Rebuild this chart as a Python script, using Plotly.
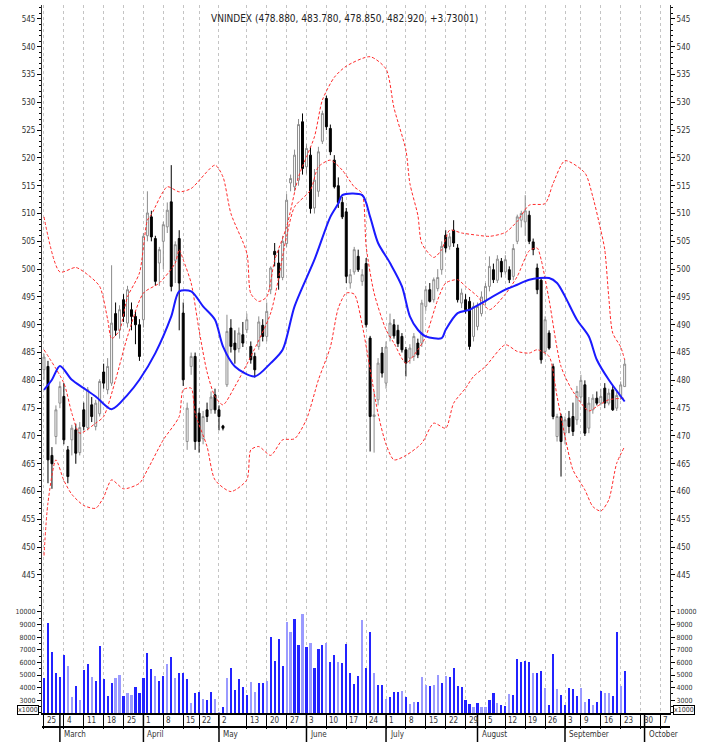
import plotly.graph_objects as go

# ---------------- data (trading-day index 0 = 25 Feb 2013) ----------------
opens = [481.9, 482.5, 466.5, 469.9, 475.9, 477.1, 467.5, 469.3, 471.1, 467.0,
         474.7, 471.5, 475.6, 471.7, 474.0, 481.5, 478.3, 479.5, 492.0, 489.0,
         494.5, 490.3, 492.7, 491.5, 490.0, 490.9, 506.0, 509.4, 505.5, 501.1,
         505.0, 507.6, 512.1, 501.6, 505.5, 492.1, 469.0, 482.5, 484.3, 474.1,
         469.5, 474.7, 474.7, 477.4, 474.7, 471.8, 479.2, 489.4, 486.7, 485.7,
         488.2, 489.1, 486.1, 484.3, 486.1, 489.9, 487.9, 496.3, 503.2, 501.1,
         498.5, 504.6, 515.5, 514.8, 516.0, 526.5, 518.4, 520.5, 511.0, 514.0,
         523.0, 530.7, 525.3, 519.6, 515.0, 512.0, 510.3, 497.5, 499.5, 502.3,
         497.8, 501.0, 487.6, 473.5, 476.5, 484.9, 479.5, 487.9, 490.0, 489.0,
         487.9, 485.5, 484.0, 484.3, 486.7, 486.7, 493.3, 496.3, 494.5, 496.5,
         499.9, 506.1, 504.1, 507.0, 503.8, 493.9, 494.5, 494.2, 487.9, 489.7,
         492.0, 494.2, 496.9, 499.9, 498.0, 501.4, 499.5, 499.9, 498.7, 505.0,
         508.8, 508.5, 509.7, 504.9, 500.2, 498.0, 485.2, 488.5, 482.5, 469.9,
         473.5, 470.5, 473.2, 473.5, 472.9, 477.0, 479.2, 471.4, 474.7, 476.8,
         475.9, 478.6, 475.9, 478.3, 475.0, 477.1, 478.88]
highs = [484.8, 483.5, 468.0, 475.5, 479.8, 479.5, 468.2, 472.0, 472.2, 472.5,
         476.0, 478.8, 477.0, 476.5, 480.2, 483.0, 484.0, 500.7, 494.0, 493.5,
         495.5, 497.0, 494.0, 492.5, 491.0, 506.5, 514.0, 510.5, 506.0, 504.0,
         508.5, 512.0, 518.7, 505.0, 507.0, 494.0, 476.0, 485.0, 485.0, 475.0,
         474.5, 476.0, 478.0, 478.5, 475.5, 472.0, 491.8, 491.0, 489.0, 489.5,
         490.5, 492.0, 487.0, 485.0, 491.5, 491.0, 494.0, 500.5, 504.7, 503.5,
         506.0, 513.5, 517.0, 521.5, 527.0, 528.0, 522.5, 522.0, 518.0, 522.0,
         528.5, 531.2, 526.0, 520.5, 516.5, 513.0, 511.0, 500.0, 504.0, 503.5,
         500.0, 502.0, 488.0, 478.0, 484.0, 486.0, 487.0, 492.0, 491.0, 490.0,
         488.5, 486.0, 486.5, 488.5, 487.5, 494.5, 497.0, 497.5, 498.5, 500.0,
         505.0, 507.0, 506.5, 508.8, 504.5, 496.5, 495.5, 495.0, 494.0, 494.0,
         496.0, 497.5, 502.3, 501.0, 502.5, 502.0, 502.5, 500.5, 504.5, 509.8,
         510.5, 513.3, 510.5, 505.5, 501.0, 498.5, 491.5, 489.0, 483.0, 474.0,
         474.0, 473.5, 474.5, 476.0, 479.0, 481.0, 480.0, 477.0, 477.5, 478.0,
         478.5, 479.5, 478.5, 479.0, 478.0, 479.8, 483.78]
lows = [480.1, 461.5, 460.5, 468.5, 475.0, 468.5, 461.5, 466.5, 465.0, 466.5,
        471.0, 471.0, 472.5, 471.0, 473.5, 478.5, 477.5, 479.0, 488.0, 487.5,
        490.5, 489.5, 489.0, 486.5, 483.5, 489.5, 505.0, 505.0, 497.0, 497.0,
        500.0, 506.5, 496.0, 497.5, 489.0, 479.0, 467.5, 481.0, 467.5, 467.0,
        468.5, 472.5, 474.0, 474.0, 471.0, 471.0, 478.8, 485.0, 483.0, 485.0,
        486.0, 488.5, 483.0, 480.5, 485.5, 487.0, 487.0, 495.5, 500.5, 496.3,
        498.0, 504.0, 514.0, 514.0, 515.0, 517.0, 517.0, 510.0, 510.0, 513.0,
        522.5, 525.0, 520.5, 514.5, 511.0, 509.0, 497.5, 496.5, 499.0, 499.5,
        497.0, 489.5, 467.2, 467.0, 475.5, 480.5, 478.5, 487.0, 487.5, 486.0,
        485.0, 480.7, 483.0, 483.5, 484.0, 486.0, 492.5, 494.0, 494.0, 496.0,
        499.0, 503.0, 503.5, 504.0, 494.0, 493.0, 492.0, 485.5, 487.0, 489.0,
        491.5, 493.5, 496.0, 497.5, 497.5, 498.5, 499.0, 497.5, 498.0, 504.5,
        507.5, 506.0, 504.5, 502.5, 495.5, 483.0, 484.5, 485.5, 473.0, 469.0,
        462.7, 468.5, 470.5, 470.0, 472.0, 476.0, 470.0, 470.5, 474.0, 475.5,
        475.5, 475.0, 475.5, 474.5, 474.5, 476.5, 478.85]
closes = [484.2, 465.7, 465.0, 474.7, 478.9, 469.3, 462.7, 471.4, 466.9, 471.5,
          471.7, 478.3, 473.5, 475.9, 479.8, 479.5, 482.5, 490.3, 489.0, 492.7,
          491.5, 496.3, 491.5, 490.0, 484.3, 505.9, 510.1, 505.8, 497.8, 503.5,
          508.0, 510.6, 496.9, 504.4, 497.5, 480.1, 475.0, 484.3, 469.0, 469.0,
          473.5, 473.5, 477.0, 474.7, 473.5, 471.4, 488.8, 486.1, 485.5, 488.5,
          486.7, 490.9, 483.7, 481.9, 490.5, 487.9, 492.4, 500.2, 502.6, 498.4,
          505.0, 512.4, 516.3, 520.5, 526.0, 518.1, 521.7, 510.9, 516.0, 521.1,
          528.0, 525.6, 521.1, 514.8, 512.0, 509.4, 498.7, 499.0, 503.5, 499.9,
          499.0, 490.0, 473.5, 473.8, 483.1, 481.3, 486.0, 490.3, 488.0, 486.6,
          485.5, 483.1, 485.8, 487.9, 484.6, 493.9, 496.3, 494.2, 498.1, 498.5,
          504.1, 503.8, 505.8, 504.7, 494.5, 495.7, 492.7, 486.1, 493.3, 493.3,
          495.0, 496.9, 500.5, 498.1, 501.8, 499.5, 501.7, 498.1, 503.7, 509.4,
          510.0, 510.5, 505.0, 503.5, 496.3, 483.7, 490.9, 485.8, 473.5, 473.5,
          469.0, 472.9, 471.7, 470.8, 478.0, 480.0, 470.5, 475.9, 476.8, 475.9,
          477.1, 475.9, 477.7, 474.7, 477.3, 479.19, 482.92]

volumes = [4734, 9153, 6851, 5131, 4866, 6586, 5750, 3278, 4125, 3014,
           5395, 5871, 4813, 4548, 7300, 4707, 3358, 4337, 4734, 4999,
           3358, 3596, 3411, 4019, 3543, 4734, 6718, 5448, 4919, 4522,
           4946, 5871, 6454, 4734, 5131, 5131, 4681, 2802, 3596, 3675,
           3067, 3014, 3622, 3093, 2088, 2485, 4734, 5554, 3808, 4681,
           4019, 3411, 4469, 3622, 4337, 4337, 4522, 8041, 6110, 7830,
           5739, 9232, 8385, 9417, 7380, 9814, 7248, 7565, 5528, 7062,
           7380, 7512, 6057, 6586, 6057, 5978, 7433, 5184, 4258, 4946,
           9364, 5528, 8438, 5184, 4205, 4205, 3093, 3278, 3622, 3622,
           3728, 3278, 2670, 2882, 2882, 4866, 4205, 4152, 4205, 4999,
           4337, 4919, 4813, 5581, 4125, 4073, 3014, 2670, 2485, 2802,
           2485, 2432, 3014, 3596, 2802, 2617, 2538, 3464, 3411, 6242,
           6057, 6110, 6057, 5184, 5184, 5342, 3940, 2617, 6665, 3861,
           3411, 2617, 3940, 3861, 3358, 3940, 2829, 3093, 2617, 2829,
           3728, 3543, 3543, 3332, 8438, 4125, 5316]
vol_light = [0, 0, 0, 0, 0, 0, 1, 1, 0, 1, 0, 0, 1, 0, 0, 0, 0, 0, 1, 1,
             0, 1, 1, 0, 0, 0, 0, 0, 1, 0, 0, 1, 0, 1, 0, 0, 0, 1, 0, 0,
             1, 0, 0, 1, 1, 0, 1, 0, 0, 0, 0, 0, 1, 1, 0, 0, 1, 0, 0, 0,
             0, 1, 1, 0, 0, 1, 0, 1, 0, 0, 0, 1, 0, 0, 1, 0, 0, 0, 0, 0,
             1, 0, 0, 1, 0, 0, 1, 0, 0, 0, 1, 0, 1, 1, 0, 1, 1, 0, 1, 1,
             0, 1, 0, 0, 0, 0, 0, 0, 1, 0, 1, 1, 0, 0, 1, 0, 0, 1, 0, 0,
             0, 0, 0, 1, 0, 0, 1, 0, 0, 1, 0, 0, 0, 0, 0, 1, 1, 0, 1, 0,
             0, 1, 1, 0, 0, 1, 0]

# moving average (blue) and band lines (red)
ma_day = [0, 2, 4, 7, 10, 13, 17, 21, 24, 28, 32, 34, 37, 40, 43, 45, 48, 53, 57,
          60, 63, 68, 72, 74, 75, 80, 82, 84, 87, 90, 92, 94, 96, 100, 101, 104,
          107, 110, 116, 119, 122, 127, 129, 131, 134, 137, 139, 142, 146]
ma_val = [478.3, 480.1, 482.6, 480.1, 478.6, 477.1, 474.8, 477.4, 480.1, 484.9,
          491.5, 496.0, 496.0, 493.3, 490.9, 486.1, 482.5, 480.7, 483.1, 485.5,
          493.3, 501.7, 509.4, 511.8, 513.3, 513.3, 509.4, 504.7, 501.1, 496.9,
          491.5, 489.1, 487.9, 487.6, 489.1, 492.1, 492.7, 493.9, 496.3, 497.2,
          498.1, 498.4, 497.5, 495.1, 490.9, 487.9, 483.7, 480.1, 476.2]

upper_day = [0, 4, 8, 11, 14, 16, 17, 19, 21, 24, 26, 27, 31, 34, 37, 43, 45, 47,
             51, 52, 54, 56, 58, 61, 64, 68, 70, 73, 76, 82, 86, 88, 91, 92, 94,
             95, 98, 100, 102, 105, 109, 112, 116, 119, 122, 126, 128, 131, 136,
             138, 140, 141, 142, 143, 145, 146]
upper_val = [509.4, 499.5, 500.3, 499.0, 496.9, 491.0, 487.5, 489.0, 495.0, 499.3,
             508.8, 509.8, 514.8, 513.9, 514.5, 518.7, 516.6, 510.0, 502.9, 495.6,
             494.2, 495.0, 501.6, 507.6, 516.6, 523.8, 530.4, 534.5, 536.5, 538.2,
             536.0, 529.0, 521.4, 515.4, 509.7, 504.6, 502.1, 503.5, 507.0, 506.5,
             506.1, 505.9, 506.6, 508.6, 511.5, 511.8, 515.4, 519.5, 517.3, 513.0,
             507.0, 503.5, 495.0, 488.5, 486.0, 483.7]

mid_day = [0, 5, 7, 9, 13, 15, 18, 21, 25, 29, 33, 34, 35, 37, 39, 41, 43, 45, 48,
           52, 57, 61, 63, 67, 69, 72, 75, 78, 80, 81, 83, 86, 88, 91, 94, 96, 99,
           101, 104, 106, 109, 112, 116, 119, 122, 124, 125, 127, 130, 133, 137,
           139, 142, 146]
mid_val = [485.5, 479.5, 474.1, 470.5, 472.3, 473.5, 480.1, 487.9, 495.7, 497.5,
           501.1, 503.5, 501.7, 497.5, 489.0, 481.5, 477.1, 475.6, 478.9, 484.3,
           492.1, 505.9, 511.2, 514.2, 518.4, 519.6, 517.8, 514.8, 513.6, 504.1,
           495.7, 489.1, 486.7, 483.1, 485.5, 487.9, 494.5, 497.5, 498.1, 496.9,
           495.1, 492.7, 495.5, 498.7, 503.3, 503.8, 501.7, 494.5, 482.5, 478.0,
           474.5, 475.3, 476.5, 476.8]

lower_day = [0, 1, 3, 5, 7, 10, 13, 15, 17, 20, 24, 26, 30, 34, 35, 37, 38, 41, 43,
             47, 51, 52, 54, 57, 60, 63, 66, 69, 72, 74, 76, 78, 80, 82, 84, 86,
             88, 91, 95, 98, 101, 103, 106, 108, 111, 116, 119, 122, 124, 127,
             129, 131, 133, 136, 138, 140, 142, 144, 146]
lower_val = [448.5, 458.0, 465.7, 462.0, 459.5, 457.5, 457.0, 459.0, 462.1, 460.5,
             461.5, 463.9, 469.3, 473.5, 478.3, 478.6, 474.1, 468.1, 462.1, 460.0,
             462.1, 467.5, 468.1, 466.5, 469.3, 469.5, 473.0, 480.1, 486.0, 493.0,
             495.7, 495.5, 490.0, 482.0, 474.0, 468.5, 465.7, 466.5, 468.7, 472.3,
             471.4, 475.9, 478.6, 480.7, 482.5, 486.4, 485.2, 484.9, 485.5, 484.3,
             477.1, 469.9, 463.9, 460.3, 457.3, 456.5, 458.5, 465.1, 468.1]

# axis labels
week_idx = [0, 5, 10, 15, 20, 25, 30, 35, 39, 44, 51, 56, 61, 66, 71, 76, 81, 86,
            91, 96, 101, 106, 111, 116, 121, 126, 131, 135, 140, 145, 150, 155]
week_lbl = ["25", "4", "11", "18", "25", "1", "8", "15", "22", "2", "13", "20", "27",
            "3", "10", "17", "24", "1", "8", "15", "22", "29", "5", "12", "19", "26",
            "3", "9", "16", "23", "30", "7"]
month_idx = [4, 25, 44, 66, 86, 109, 131, 151]
month_lbl = ["March", "April", "May", "June", "July", "August", "September", "October"]
price_ticks = [445, 450, 455, 460, 465, 470, 475, 480, 485, 490, 495, 500, 505,
               510, 515, 520, 525, 530, 535, 540, 545]
vol_ticks = [3000, 4000, 5000, 6000, 7000, 8000, 9000, 10000]
title_text = "VNINDEX (478.880, 483.780, 478.850, 482.920, +3.73001)"

# ---------------- figure ----------------
FONT = "Liberation Sans Narrow, Arial Narrow, DejaVu Sans Condensed, Liberation Sans, sans-serif"
days = list(range(len(closes)))
PRICE_RANGE = [440.5, 547.5]
VOL_RANGE = [1990, 10950]
SPLIT = 0.1596

fig = go.Figure()
fig.add_trace(go.Candlestick(
    x=days, open=opens, high=highs, low=lows, close=closes,
    increasing=dict(line=dict(color="#8c8c8c", width=1), fillcolor="#ffffff"),
    decreasing=dict(line=dict(color="#000000", width=1), fillcolor="#000000"),
    whiskerwidth=0, xaxis="x", yaxis="y", showlegend=False, hoverinfo="skip"))

for dx, dy in [(upper_day, upper_val), (mid_day, mid_val), (lower_day, lower_val)]:
    fig.add_trace(go.Scatter(x=dx, y=dy, mode="lines", xaxis="x", yaxis="y",
                             line=dict(color="#ff2a2a", width=1, dash="3px,2px",
                                       shape="spline", smoothing=0.7),
                             showlegend=False, hoverinfo="skip"))
fig.add_trace(go.Scatter(x=ma_day, y=ma_val, mode="lines", xaxis="x", yaxis="y",
                         line=dict(color="#1a1aff", width=2, shape="spline",
                                   smoothing=0.8),
                         showlegend=False, hoverinfo="skip"))

fig.add_trace(go.Bar(x=days, y=volumes, xaxis="x", yaxis="y2", width=0.55,
                     marker=dict(color=["#9a9aff" if f else "#2323ff" for f in vol_light],
                                 line=dict(width=0)),
                     showlegend=False, hoverinfo="skip"))
# carriers for the right-hand axes
fig.add_trace(go.Scatter(x=[days[-1]], y=[closes[-1]], xaxis="x", yaxis="y3",
                         mode="markers", marker=dict(opacity=0), showlegend=False,
                         hoverinfo="skip"))
fig.add_trace(go.Scatter(x=[days[-1]], y=[volumes[-1]], xaxis="x", yaxis="y4",
                         mode="markers", marker=dict(opacity=0), showlegend=False,
                         hoverinfo="skip"))

price_axis = dict(range=PRICE_RANGE, tickmode="array", tickvals=price_ticks,
                  ticktext=[str(t) for t in price_ticks], ticks="outside", ticklen=4,
                  tickcolor="#000", showline=True, linecolor="#333", linewidth=1,
                  showgrid=False, zeroline=False,
                  minor=dict(tickmode="linear", tick0=440, dtick=1, ticks="outside",
                             ticklen=2, tickcolor="#000", showgrid=False),
                  tickfont=dict(size=8, color="#333"))
vol_axis = dict(range=VOL_RANGE, tickmode="array", tickvals=vol_ticks,
                ticktext=[str(t) for t in vol_ticks], ticks="outside", ticklen=4,
                tickcolor="#000", showline=True, linecolor="#333", linewidth=1,
                showgrid=False, zeroline=False,
                minor=dict(tickmode="linear", tick0=0, dtick=500, ticks="outside",
                           ticklen=2, tickcolor="#000", showgrid=False),
                tickfont=dict(size=7, color="#333"))

fig.update_layout(
    width=703, height=742, margin=dict(l=42, r=33, t=5, b=29),
    paper_bgcolor="white", plot_bgcolor="white", showlegend=False,
    font=dict(family=FONT, size=8, color="#333"), bargap=0,
    xaxis=dict(domain=[0, 1], anchor="y2", range=[-0.5, 157.4], tickmode="array",
               tickvals=week_idx, ticktext=week_lbl, showticklabels=False,
               showgrid=True, gridcolor="#c4c4c4", griddash="dot", gridwidth=1,
               ticks="outside", ticklen=14, tickcolor="#000", tickwidth=1,
               showline=True, linecolor="#000", linewidth=2, zeroline=False,
               rangeslider=dict(visible=False)),
    yaxis=dict(domain=[SPLIT, 1], anchor="x", side="left", **price_axis),
    yaxis3=dict(overlaying="y", anchor="x", side="right", **price_axis),
    yaxis2=dict(domain=[0, SPLIT], anchor="x", side="left", **vol_axis),
    yaxis4=dict(overlaying="y2", anchor="x", side="right", **vol_axis),
)

plot_h = 742 - 5 - 29
# day labels inside the tick row
for xi, lbl in zip(week_idx, week_lbl):
    fig.add_annotation(x=xi, xref="x", y=0, yref="paper", yanchor="top",
                       xanchor="left", xshift=1, yshift=-1, text=lbl,
                       showarrow=False, font=dict(size=8, color="#333"))
# month row
fig.add_shape(type="line", xref="paper", yref="paper", x0=0, x1=1,
              y0=-14 / plot_h, y1=-14 / plot_h, line=dict(color="#000", width=2))
for xi, lbl in zip(month_idx, month_lbl):
    fig.add_shape(type="line", xref="x", yref="paper", x0=xi, x1=xi,
                  y0=0, y1=-29 / plot_h, line=dict(color="#000", width=1.5))
    fig.add_annotation(x=xi, xref="x", y=-14 / plot_h, yref="paper", yanchor="top",
                       xanchor="left", xshift=2, yshift=-1, text=lbl,
                       showarrow=False, font=dict(size=8, color="#333"))

# x1000 boxes
for xp, anc, sh in [(0, "right", -3), (1, "left", 3)]:
    fig.add_annotation(x=xp, xref="paper", y=2250, yref="y2", xanchor=anc,
                       xshift=sh, text="x1000", showarrow=False,
                       bordercolor="#000", borderwidth=1, borderpad=0,
                       bgcolor="white", font=dict(size=7, color="#333"))

fig.add_annotation(x=0.482, xref="paper", y=1, yref="paper", yanchor="top",
                   yshift=-6, text=title_text, showarrow=False,
                   font=dict(size=10, color="#222"))

fig.write_html("out.html", config={"displayModeBar": False},
               post_script="document.body.style.margin='0px';"
                           "document.body.style.overflow='hidden';")
